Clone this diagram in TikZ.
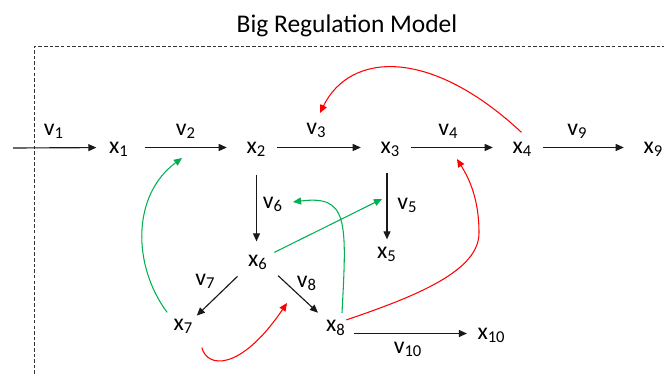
\documentclass[tikz,border=0pt]{standalone}
\usepackage{fontspec}
\setmainfont{Carlito}
\usetikzlibrary{arrows.meta,calc}
\definecolor{actgreen}{HTML}{00B050}
\definecolor{inhred}{HTML}{FF0000}

\begin{document}
\begin{tikzpicture}[x=0.02cm,y=-0.02cm,line width=0.65pt,>={Triangle[length=4.6pt,width=4pt]},
  met/.style={inner sep=0pt,text height=6.3pt,text depth=0pt,font=\fontsize{13.5}{16}\selectfont},
  rate/.style={met},
  flow/.style={->,black!90},
  hshort/.style={shorten <=5.5pt,shorten >=11pt},
  act/.style={->,actgreen,line width=0.6pt},
  inh/.style={->,inhred,line width=0.6pt},
  border/.style={black!80,line width=0.5pt,dash pattern=on 2pt off 1.2pt}]
  \useasboundingbox (0,0) rectangle (664,374);
  % ===================== titulo y marco =====================
  \node[anchor=base,font=\fontsize{14.5}{17}\selectfont] (title) at (347,33){Big Regulation Model};
  \draw[border] (34,374) |- (664,46.7);
  % ===================== metabolitos =====================
  \node[met] (x1) at (119,147.5){x\textsubscript{1}};
  \node[met] (x2) at (256.5,147.5){x\textsubscript{2}};
  \node[met] (x3) at (390.5,147.5){x\textsubscript{3}};
  \node[met] (x4) at (522.5,147.5){x\textsubscript{4}};
  \node[met] (x9) at (653.5,147.5){x\textsubscript{9}};
  \node[met] (x5) at (387,252.5){x\textsubscript{5}};
  \node[met] (x6) at (258,260.5){x\textsubscript{6}};
  \node[met] (x7) at (183.5,324.5){x\textsubscript{7}};
  \node[met] (x8) at (336,326){x\textsubscript{8}};
  \node[met] (x10) at (491.5,333.5){x\textsubscript{10}};
  % ===================== velocidades =====================
  \node[rate] (v1) at (54,129.5){v\textsubscript{1}};
  \node[rate] (v2) at (186,129.5){v\textsubscript{2}};
  \node[rate] (v3) at (316.5,128.5){v\textsubscript{3}};
  \node[rate] (v4) at (448.5,129.5){v\textsubscript{4}};
  \node[rate] (v9) at (577.5,129.5){v\textsubscript{9}};
  \node[rate] (v6) at (273,202.5){v\textsubscript{6}};
  \node[rate] (v5) at (407.5,203.5){v\textsubscript{5}};
  \node[rate] (v7) at (205.5,279.5){v\textsubscript{7}};
  \node[rate] (v8) at (307,281.5){v\textsubscript{8}};
  \node[rate] (v10) at (408,347.5){v\textsubscript{10}};
  % ===================== reacciones =====================
  \coordinate (src) at (13,148);
  \draw[flow,shorten >=7pt] (src) -- (x1);
  \draw[flow,hshort,shorten <=9pt] (x1) -- (x2);
  \draw[flow,hshort] (x2) -- (x3);
  \draw[flow,hshort] (x3) -- (x4);
  \draw[flow,hshort] (x4) -- (x9);
  \draw[flow,shorten <=12pt,shorten >=7.4pt] (x2.south) -- (x2.south |- x6.north);
  \draw[flow,shorten <=11pt,shorten >=4pt] (x5.north |- x3.south) -- (x5.north);
  \draw[flow,shorten <=8pt,shorten >=2.3pt] (x6.south west) -- (x7.north east);
  \draw[flow,shorten <=7.6pt,shorten >=6pt] (x6.south east) -- (x8.north west);
  \draw[flow,shorten <=4.5pt,shorten >=5.7pt] (x8.east |- x10) -- (x10);
  % ===================== regulacion =====================
  \coordinate (r2) at (182,158);
  \coordinate (r3) at (320,113);
  \coordinate (r4) at (457,159);
  \coordinate (r5) at (382,199);
  \coordinate (r6) at (293,202);
  \coordinate (r78) at (287,303);
  % activacion
  \draw[act] ($(x7.north west)+(-6,-6)$) .. controls (132,265) and (132,195) .. (r2);
  \draw[act] ($(x6.north east)+(6,-2)$) -- (r5);
  \draw[act] ($(x8.north)+(6,-7)$) .. controls (347,220) and (348,195) .. (r6);
  % inhibicion
  \draw[inh] ($(x4.north)+(-1,-9)$) .. controls (430,47) and (350,52) .. (r3);
  \draw[inh] (x8.north east) .. controls (420,295) and (479,270) .. (479,233) .. controls (479,200) and (470,180) .. (r4);
  \draw[inh] ($(x7.south east)+(8,17)$) .. controls (207,368) and (240,372) .. (r78);
\end{tikzpicture}
\end{document}
